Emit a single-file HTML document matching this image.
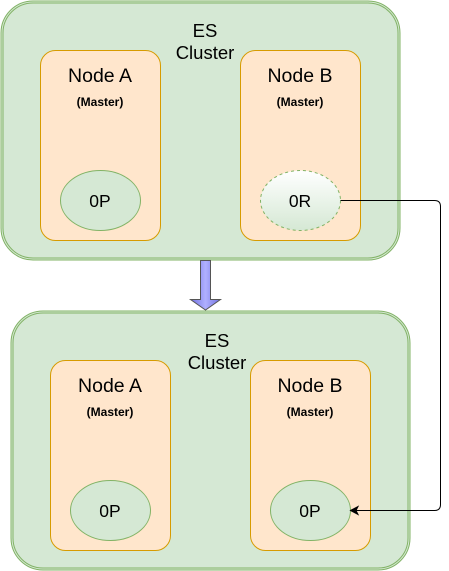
<!DOCTYPE html>
<html><head><style>body{margin:0;background:#fff}svg{display:block}text{font-family:"Liberation Sans",Arial,sans-serif}</style></head>
<body>
<svg width="449" height="571" viewBox="0 0 449 571" xmlns="http://www.w3.org/2000/svg">
<defs>
<linearGradient id="g" x1="0" y1="0" x2="0" y2="1"><stop offset="0" stop-color="#ffffff"/><stop offset="1" stop-color="#d5e8d4"/></linearGradient>
<linearGradient id="ar" x1="0" y1="0" x2="1" y2="0"><stop offset="0" stop-color="#7070e0"/><stop offset="0.5" stop-color="#b0b0ff"/><stop offset="1" stop-color="#7070e0"/></linearGradient>
</defs>
<rect x="1" y="1" width="399" height="259" rx="32" fill="#d5e8d4" stroke="#82b366" stroke-width="1"/>
<rect x="3" y="3" width="395" height="255" rx="30" fill="none" stroke="#82b366" stroke-width="1"/>
<text x="205" y="37" font-size="18.5" text-anchor="middle">ES</text>
<text x="205" y="59" font-size="18.5" text-anchor="middle">Cluster</text>
<rect x="40.5" y="50.5" width="120" height="190" rx="15" fill="#ffe6cc" stroke="#d79b00"/>
<text x="100" y="82" font-size="19.5" text-anchor="middle">Node A</text>
<text x="100" y="106" font-size="12" font-weight="bold" text-anchor="middle">(Master)</text>
<ellipse cx="100.5" cy="200.5" rx="40" ry="30" fill="#d5e8d4" stroke="#82b366"/>
<text x="100" y="207" font-size="17.5" text-anchor="middle">0P</text>
<rect x="240.5" y="50.5" width="120" height="190" rx="15" fill="#ffe6cc" stroke="#d79b00"/>
<text x="300" y="82" font-size="19.5" text-anchor="middle">Node B</text>
<text x="300" y="106" font-size="12" font-weight="bold" text-anchor="middle">(Master)</text>
<ellipse cx="300.5" cy="200.5" rx="40" ry="30" fill="url(#g)" stroke="#82b366" stroke-dasharray="3 3"/>
<text x="300" y="207" font-size="17.5" text-anchor="middle">0R</text>
<path d="M200.5 260.5 H210.5 V299.5 H220.5 L205.5 310 L190.5 299.5 H200.5 Z" fill="url(#ar)" stroke="#555" stroke-width="1"/>
<rect x="11" y="311" width="399" height="259" rx="32" fill="#d5e8d4" stroke="#82b366" stroke-width="1"/>
<rect x="13" y="313" width="395" height="255" rx="30" fill="none" stroke="#82b366" stroke-width="1"/>
<text x="217" y="347" font-size="18.5" text-anchor="middle">ES</text>
<text x="217" y="369" font-size="18.5" text-anchor="middle">Cluster</text>
<rect x="50.5" y="360.5" width="120" height="190" rx="15" fill="#ffe6cc" stroke="#d79b00"/>
<text x="110" y="392" font-size="19.5" text-anchor="middle">Node A</text>
<text x="110" y="416" font-size="12" font-weight="bold" text-anchor="middle">(Master)</text>
<ellipse cx="110.5" cy="510.5" rx="40" ry="30" fill="#d5e8d4" stroke="#82b366"/>
<text x="110" y="517" font-size="17.5" text-anchor="middle">0P</text>
<rect x="250.5" y="360.5" width="120" height="190" rx="15" fill="#ffe6cc" stroke="#d79b00"/>
<text x="310" y="392" font-size="19.5" text-anchor="middle">Node B</text>
<text x="310" y="416" font-size="12" font-weight="bold" text-anchor="middle">(Master)</text>
<ellipse cx="310.5" cy="510.5" rx="40" ry="30" fill="#d5e8d4" stroke="#82b366"/>
<text x="310" y="517" font-size="17.5" text-anchor="middle">0P</text>
<path d="M340.5 200.5 H434.5 Q440.5 200.5 440.5 206.5 V504.5 Q440.5 510.5 434.5 510.5 H356" fill="none" stroke="#000" stroke-width="1"/>
<path d="M350.5 510.5 L358 506.5 L356 510.5 L358 514.5 Z" fill="#000" stroke="#000"/>
</svg>
</body></html>
